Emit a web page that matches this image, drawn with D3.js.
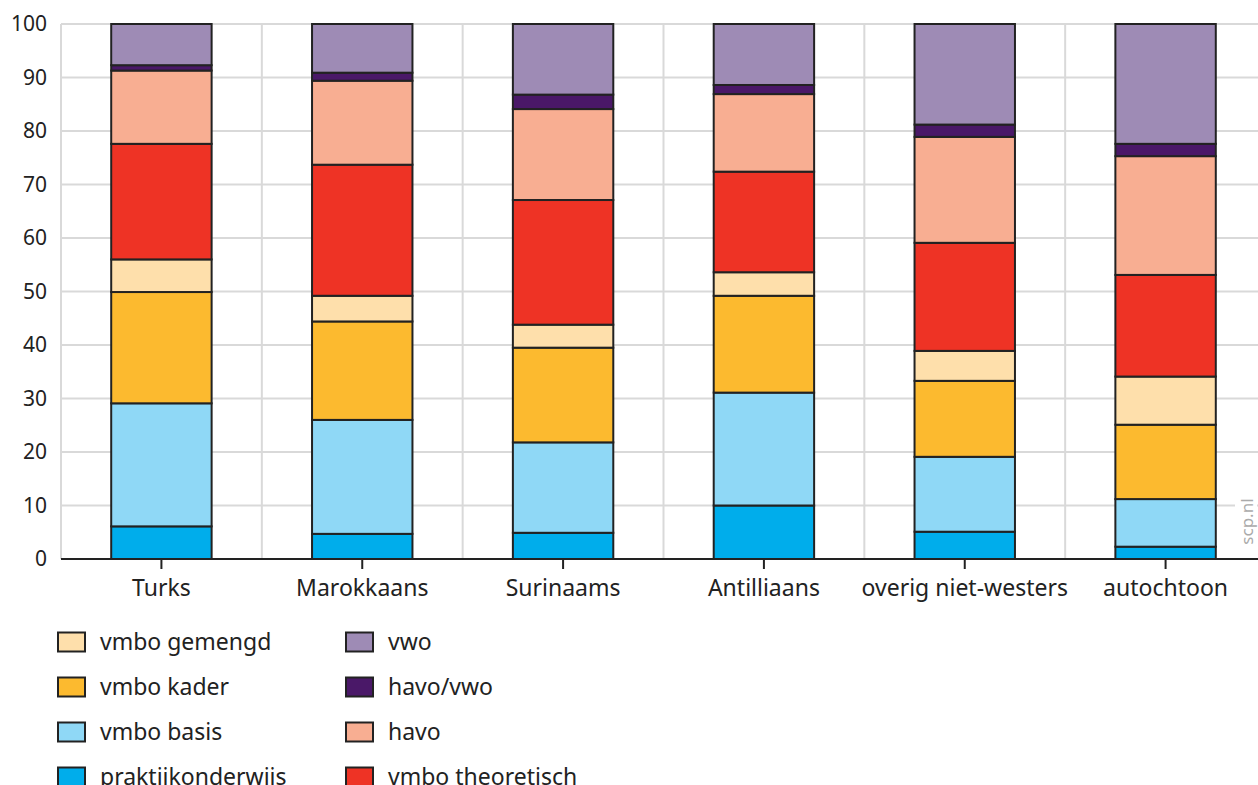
<!DOCTYPE html>
<html>
<head>
<meta charset="utf-8">
<script src="https://cdn.jsdelivr.net/npm/d3@7"></script>
<style>
  body { margin: 0; background: #fff; }
  text { font-family: "Noto Sans", "Open Sans", sans-serif; fill: #222; }
</style>
</head>
<body>
<div id="chart"></div>
<script>
// groups on the x axis
const groups = ["Turks", "Marokkaans", "Surinaams", "Antilliaans", "overig niet-westers", "autochtoon"];

// series, bottom to top (share in %)
const praktijkonderwijs = [6.1, 4.7, 4.9, 10.0, 5.1, 2.3];
const vmboBasis        = [23.0, 21.3, 16.9, 21.1, 14.0, 8.9];
const vmboKader        = [20.8, 18.4, 17.7, 18.1, 14.2, 13.9];
const vmboGemengd      = [6.1, 4.8, 4.3, 4.4, 5.6, 9.0];
const vmboTheoretisch  = [21.6, 24.5, 23.3, 18.8, 20.2, 19.0];
const havo             = [13.7, 15.7, 17.0, 14.5, 19.8, 22.2];
const havoVwo          = [1.0, 1.5, 2.7, 1.7, 2.3, 2.3];
const vwo              = [7.7, 9.1, 13.2, 11.4, 18.8, 22.4];

const seriesNames = ["praktijkonderwijs", "vmbo basis", "vmbo kader", "vmbo gemengd",
                     "vmbo theoretisch", "havo", "havo/vwo", "vwo"];
const seriesValues = [praktijkonderwijs, vmboBasis, vmboKader, vmboGemengd,
                      vmboTheoretisch, havo, havoVwo, vwo];
const seriesColors = ["#00adeb", "#8fd8f6", "#fcba2f", "#fedfab",
                      "#ee3325", "#f8ae92", "#4a1868", "#9e8bb5"];

const yTicks = [0, 10, 20, 30, 40, 50, 60, 70, 80, 90, 100];

// legend columns, as in the original
const legendCols = [
    ["vmbo gemengd", "vmbo kader", "vmbo basis", "praktijkonderwijs"],
    ["vwo", "havo/vwo", "havo", "vmbo theoretisch"]
];

const width = 1258;
const height = 785;
const margin = { top: 24, right: -8, bottom: 226, left: 61 };

const svg = d3.select("#chart").append("svg")
    .attr("width", width)
    .attr("height", height);

// build table for the stack
const table = groups.map((g, i) => {
    const row = { group: g };
    seriesNames.forEach((s, j) => { row[s] = seriesValues[j][i]; });
    return row;
});
const stacked = d3.stack().keys(seriesNames)(table);

const x = d3.scaleBand()
    .domain(groups)
    .range([margin.left, width - margin.right])
    .paddingInner(0.5)
    .paddingOuter(0.25);

const y = d3.scaleLinear()
    .domain([0, 100])
    .range([height - margin.bottom, margin.top]);

const color = d3.scaleOrdinal().domain(seriesNames).range(seriesColors);

// horizontal gridlines
svg.append("g")
    .selectAll("line")
    .data(yTicks.filter(d => d > 0))
    .join("line")
    .attr("x1", margin.left)
    .attr("x2", width)
    .attr("y1", d => y(d))
    .attr("y2", d => y(d))
    .attr("stroke", "#d9d9d9")
    .attr("stroke-width", 2);

// vertical gridlines at band boundaries
const step = x.step();
const bounds = d3.range(groups.length).map(i => margin.left + i * step);
svg.append("g")
    .selectAll("line")
    .data(bounds)
    .join("line")
    .attr("x1", d => d)
    .attr("x2", d => d)
    .attr("y1", y(100))
    .attr("y2", y(0))
    .attr("stroke", "#d9d9d9")
    .attr("stroke-width", 2);

// stacked bars
svg.append("g")
    .selectAll("g")
    .data(stacked)
    .join("g")
    .attr("fill", d => color(d.key))
    .selectAll("rect")
    .data(d => d)
    .join("rect")
    .attr("x", d => x(d.data.group))
    .attr("width", x.bandwidth())
    .attr("y", d => y(d[1]))
    .attr("height", d => y(d[0]) - y(d[1]))
    .attr("stroke", "#222")
    .attr("stroke-width", 2);

// y axis labels
const yAxis = svg.append("g")
    .attr("transform", "translate(" + (margin.left - 14) + ",0)")
    .call(d3.axisLeft(y).tickValues(yTicks).tickSize(0).tickPadding(0));
yAxis.select(".domain").remove();
yAxis.selectAll("text")
    .style("font-size", "21px")
    .style("fill", "#222");

// x axis
const xAxis = svg.append("g")
    .attr("transform", "translate(0," + y(0) + ")")
    .call(d3.axisBottom(x).tickSize(10));
xAxis.select(".domain").remove();
xAxis.selectAll(".tick line").attr("stroke", "#222").attr("stroke-width", 2);
xAxis.selectAll("text")
    .attr("y", 37)
    .attr("dy", 0)
    .style("font-size", "23px")
    .style("fill", "#222");
svg.append("line")
    .attr("x1", margin.left)
    .attr("x2", width)
    .attr("y1", y(0))
    .attr("y2", y(0))
    .attr("stroke", "#222")
    .attr("stroke-width", 2);

// source tag
const tag = svg.append("g").attr("transform", "translate(1247," + y(7) + ")");
tag.append("rect")
    .attr("x", -30).attr("y", -12)
    .attr("width", 60).attr("height", 22)
    .attr("transform", "rotate(-90)")
    .attr("fill", "#fff");
tag.append("text")
    .attr("transform", "rotate(-90)")
    .attr("text-anchor", "middle")
    .attr("dy", "0.35em")
    .style("font-size", "17px")
    .style("fill", "#aaa")
    .text("scp.nl");

// legend
const legend = svg.append("g");
legendCols.forEach((col, c) => {
    col.forEach((name, r) => {
        const lg = legend.append("g")
            .attr("transform", "translate(" + (58 + c * 288) + "," + (642 + r * 45) + ")");
        lg.append("rect")
            .attr("x", 0).attr("y", -9.5)
            .attr("width", 27).attr("height", 19)
            .attr("fill", color(name))
            .attr("stroke", "#222")
            .attr("stroke-width", 2);
        lg.append("text")
            .attr("x", 42)
            .attr("dy", "0.35em")
            .style("font-size", "23px")
            .text(name);
    });
});
</script>
</body>
</html>
